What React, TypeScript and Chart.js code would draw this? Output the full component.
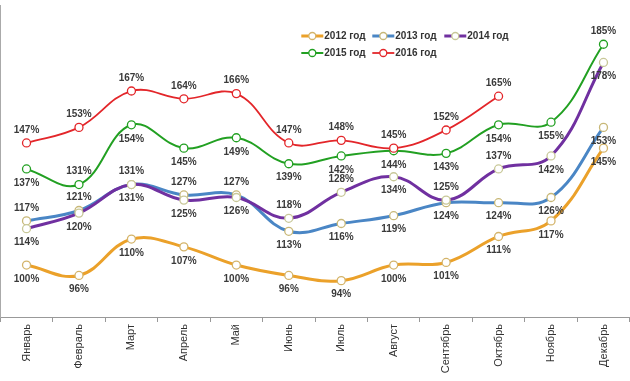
import React, { useEffect, useRef } from "react";
import { Chart, registerables } from "chart.js";

Chart.register(...registerables);

const months = ["Январь", "Февраль", "Март", "Апрель", "Май", "Июнь", "Июль", "Август", "Сентябрь", "Октябрь", "Ноябрь", "Декабрь"];
const seriesNames = ["2012 год", "2013 год", "2014 год", "2015 год", "2016 год"];

const y2012 = [100, 96, 110, 107, 100, 96, 94, 100, 101, 111, 117, 145];
const y2013 = [117, 121, 131, 127, 127, 113, 116, 119, 124, 124, 126, 153];
const y2014 = [114, 120, 131, 125, 126, 118, 128, 134, 125, 137, 142, 178];
const y2015 = [137, 131, 154, 145, 149, 139, 142, 144, 143, 154, 155, 185];
const y2016 = [147, 153, 167, 164, 166, 147, 148, 145, 152, 165];

// label placement: a = above point, b = below point
const pos2012 = ["b", "b", "b", "b", "b", "b", "b", "b", "b", "b", "b", "b"];
const pos2013 = ["a", "a", "a", "a", "a", "b", "b", "b", "b", "b", "b", "b"];
const pos2014 = ["b", "b", "b", "b", "b", "a", "a", "b", "a", "a", "b", "b"];
const pos2015 = ["b", "a", "b", "b", "b", "b", "b", "b", "b", "b", "b", "a"];
const pos2016 = ["a", "a", "a", "a", "a", "a", "a", "a", "a", "a"];

const FONT = '"Liberation Sans", Arial, sans-serif';

const valueLabels = {
  id: "valueLabels",
  afterDatasetsDraw(chart: any) {
    const ctx = chart.ctx;
    ctx.save();
    ctx.font = `bold 10px ${FONT}`;
    ctx.fillStyle = "#3a3a3a";
    ctx.textAlign = "center";
    ctx.textBaseline = "middle";
    chart.data.datasets.forEach((ds: any, i: number) => {
      const meta = chart.getDatasetMeta(i);
      meta.data.forEach((pt: any, j: number) => {
        const v = ds.data[j];
        if (v == null) return;
        const off = ds.labelPos[j] === "a" ? -13 : 14;
        ctx.fillText(v + "%", pt.x, pt.y + off);
      });
    });
    ctx.restore();
  },
};

const customLegend = {
  id: "customLegend",
  afterDraw(chart: any) {
    const ctx = chart.ctx;
    const left = chart.chartArea.left;
    const cols = [301, 372, 444];
    const rows = [36, 53];
    ctx.save();
    chart.data.datasets.forEach((ds: any, k: number) => {
      const x = left + cols[k % 3];
      const y = rows[Math.floor(k / 3)];
      ctx.strokeStyle = ds.borderColor;
      ctx.lineWidth = ds.borderWidth;
      ctx.beginPath();
      ctx.moveTo(x, y);
      ctx.lineTo(x + 22, y);
      ctx.stroke();
      ctx.beginPath();
      ctx.arc(x + 11, y, 3.5, 0, Math.PI * 2);
      ctx.fillStyle = "#ffffff";
      ctx.fill();
      ctx.lineWidth = 1.3;
      ctx.strokeStyle = ds.pointBorderColor;
      ctx.stroke();
      ctx.font = `bold 10px ${FONT}`;
      ctx.fillStyle = "#333333";
      ctx.textAlign = "left";
      ctx.textBaseline = "middle";
      ctx.fillText(ds.label, x + 23, y);
    });
    ctx.restore();
  },
};

export default function App() {
  const ref = useRef<HTMLCanvasElement | null>(null);

  useEffect(() => {
    if (!ref.current) return;
    const mk = (i: number, data: number[], color: string, marker: string, width: number, pos: string[]) => ({
      label: seriesNames[i],
      data,
      labelPos: pos,
      borderColor: color,
      borderWidth: width,
      pointBackgroundColor: "#ffffff",
      pointBorderColor: marker,
      pointBorderWidth: 1.3,
      pointRadius: 4,
      tension: 0.4,
      fill: false,
      order: 5 - i,
    });
    const chart = new Chart(ref.current, {
      type: "line",
      data: {
        labels: months,
        datasets: [
          mk(0, y2012, "#EBA12A", "#D4B46A", 3, pos2012),
          mk(1, y2013, "#4A86C5", "#C8B878", 3, pos2013),
          mk(2, y2014, "#7030A0", "#C8C898", 3, pos2014),
          mk(3, y2015, "#22A022", "#22A022", 2, pos2015),
          mk(4, y2016, "#E3262A", "#E3262A", 1.8, pos2016),
        ] as any,
      },
      options: {
        responsive: false,
        animation: false,
        layout: { padding: { top: 2, left: 1, right: 1, bottom: 0 } },
        plugins: { legend: { display: false }, tooltip: { enabled: false } },
        scales: {
          x: {
            offset: true,
            grid: { display: true, drawOnChartArea: false, drawTicks: true, tickLength: 5, color: "#999999", offset: true },
            border: { display: true, color: "#999999" },
            ticks: { minRotation: 90, maxRotation: 90, autoSkip: false, padding: 2, color: "#333333", font: { family: FONT, size: 11 } },
            afterFit: (s: any) => {
              s.height = 64;
            },
          },
          y: {
            min: 80,
            max: 200,
            ticks: { display: false },
            grid: { display: false, drawTicks: false },
            border: { display: true, color: "#aaaaaa" },
            afterFit: (s: any) => { s.width = 1; },
          },
        },
      },
      plugins: [valueLabels, customLegend],
    });
    return () => chart.destroy();
  }, []);

  return (
    <div style={{ position: "absolute", left: 0, top: 0, width: 630, height: 381, overflow: "hidden", background: "#ffffff" }}>
      <canvas ref={ref} width={640} height={381} style={{ position: "absolute", left: -5, top: 0 }} />
    </div>
  );
}
